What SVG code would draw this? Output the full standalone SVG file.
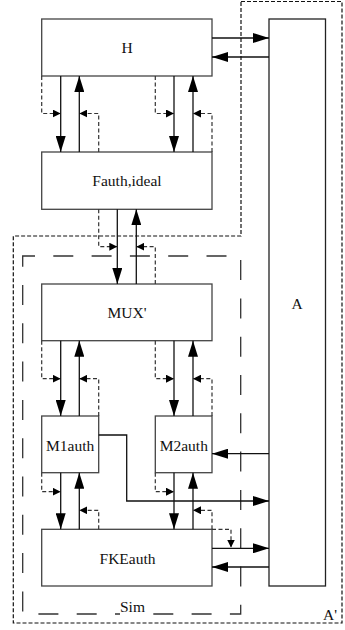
<svg xmlns="http://www.w3.org/2000/svg" width="345" height="630" viewBox="0 0 345 630">
<style>
.box{fill:#fff;stroke:#444;stroke-width:1.3}
.abox{fill:#fff;stroke:#222;stroke-width:1.3}
.lbl{font-family:"Liberation Serif","Times New Roman",serif;font-size:15.5px;fill:#111;text-anchor:middle}
.sol{fill:none;stroke:#111;stroke-width:1.3;marker-end:url(#big)}
.dsh{fill:none;stroke:#333;stroke-width:1.2;stroke-dasharray:4 2.5;marker-end:url(#small)}
.ln{fill:none;stroke:#111;stroke-width:1.3}
</style>
<defs>
<marker id="big" markerUnits="userSpaceOnUse" markerWidth="16" markerHeight="10" refX="16" refY="5" orient="auto"><path d="M0,0 L16,5 L0,10 z" fill="#000"/></marker>
<marker id="small" markerUnits="userSpaceOnUse" markerWidth="8" markerHeight="8" refX="8" refY="4" orient="auto"><path d="M0,0 L8,4 L0,8 z" fill="#000"/></marker>
</defs>
<g id="boundary-Aprime">
<path d="M241,1.5 L342,1.5 L342,623 L13.3,623 L13.3,236 L241,236 Z" fill="none" stroke="#111" stroke-width="1.2" stroke-dasharray="4 2"/>
<text x="323" y="620" font-family="'Liberation Serif','Times New Roman',serif" font-size="15.5" fill="#111">A'</text>
</g>
<g id="boundary-Sim">
<rect x="22.7" y="256" width="218" height="358" fill="none" stroke="#333" stroke-width="1.3" stroke-dasharray="20 18.3" stroke-dashoffset="7.7"/>
<rect x="120" y="598" width="26" height="20" fill="#fff"/>
<text class="lbl" x="132.5" y="611.5">Sim</text>
</g>
<g id="H"><rect class="box" x="41.7" y="19" width="170.3" height="57"/><text class="lbl" x="127" y="53.3">H</text></g>
<g id="Fauth"><rect class="box" x="41.7" y="152" width="170.3" height="57.3"/><text class="lbl" x="127" y="186">Fauth,ideal</text></g>
<g id="MUX"><rect class="box" x="41.7" y="284" width="170.3" height="56.7"/><text class="lbl" x="127" y="317.5">MUX'</text></g>
<g id="M1auth"><rect class="box" x="41.7" y="416" width="57" height="56.7"/><text class="lbl" x="70.2" y="450.7">M1auth</text></g>
<g id="M2auth"><rect class="box" x="155.3" y="416" width="56.7" height="56.7"/><text class="lbl" x="183.8" y="450.7">M2auth</text></g>
<g id="FKEauth"><rect class="box" x="41.7" y="529.3" width="170.3" height="56.7"/><text class="lbl" x="127.5" y="564">FKEauth</text></g>
<g id="A"><rect class="abox" x="269" y="19" width="56.5" height="567"/><text class="lbl" x="297" y="309">A</text></g>
<g id="connectors">
<!-- H <-> A -->
<path class="sol" d="M212,38 L269,38"/>
<path class="sol" d="M269,57 L212,57"/>
<!-- H <-> Fauth -->
<path class="sol" d="M60.7,76 L60.7,152"/>
<path class="sol" d="M79.3,152 L79.3,76"/>
<path class="dsh" d="M41.7,76 L41.7,113.5 L60.7,113.5"/>
<path class="dsh" d="M98.7,152 L98.7,113.5 L79.3,113.5"/>
<path class="sol" d="M174,76 L174,152"/>
<path class="sol" d="M193,152 L193,76"/>
<path class="dsh" d="M155.3,76 L155.3,113.5 L174,113.5"/>
<path class="dsh" d="M212,152 L212,113.5 L193,113.5"/>
<!-- Fauth <-> MUX -->
<path class="sol" d="M117.3,209.3 L117.3,284"/>
<path class="sol" d="M136.3,284 L136.3,209.3"/>
<path class="dsh" d="M98.7,209.3 L98.7,246.7 L117.3,246.7"/>
<path class="dsh" d="M155.3,284 L155.3,246.7 L136.3,246.7"/>
<!-- MUX <-> M1/M2 -->
<path class="sol" d="M60.7,340.7 L60.7,416"/>
<path class="sol" d="M79.3,416 L79.3,340.7"/>
<path class="dsh" d="M41.7,340.7 L41.7,378.7 L60.7,378.7"/>
<path class="dsh" d="M98.7,416 L98.7,378.7 L79.3,378.7"/>
<path class="sol" d="M174,340.7 L174,416"/>
<path class="sol" d="M193,416 L193,340.7"/>
<path class="dsh" d="M155.3,340.7 L155.3,378.7 L174,378.7"/>
<path class="dsh" d="M212,416 L212,378.7 L193,378.7"/>
<!-- M1/M2 <-> FKE -->
<path class="sol" d="M60.7,472.7 L60.7,529.3"/>
<path class="sol" d="M79.3,529.3 L79.3,472.7"/>
<path class="dsh" d="M41.7,472.7 L41.7,491.7 L60.7,491.7"/>
<path class="dsh" d="M98.7,529.3 L98.7,510.3 L79.3,510.3"/>
<path class="sol" d="M174,472.7 L174,529.3"/>
<path class="sol" d="M193,529.3 L193,472.7"/>
<path class="dsh" d="M155.3,472.7 L155.3,491.7 L174,491.7"/>
<path class="dsh" d="M212,529.3 L212,510.3 L193,510.3"/>
<!-- M1 -> A, A -> M2 -->
<path class="sol" d="M98.7,435 L126.7,435 L126.7,501 L269,501"/>
<path class="sol" d="M269,453.7 L212,453.7"/>
<!-- FKE <-> A -->
<path class="dsh" d="M212,529.3 L231,529.3 L231,547.5"/>
<path class="sol" d="M212,548.3 L269,548.3"/>
<path class="sol" d="M269,567 L212,567"/>
</g>
</svg>
